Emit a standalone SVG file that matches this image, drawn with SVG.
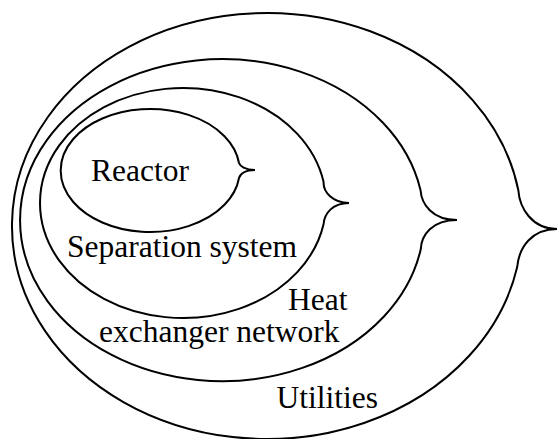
<svg xmlns="http://www.w3.org/2000/svg" width="558" height="439" viewBox="0 0 558 439">
  <style>
    .ring { fill: none; stroke: #000; stroke-width: 2; stroke-linejoin: miter; }
    .lbl { font-family: "Liberation Serif", "Times New Roman", serif; font-size: 31.5px; fill: #000; }
  </style>
  <rect x="0" y="0" width="558" height="439" fill="#fff"/>
  <g id="utilities">
    <path class="ring" d="M 518.3 190 A 255 213 0 1 0 517.2 267 C 519 247 532 229 557 229 C 532 229 519.5 208 518.3 190 Z"/>
    <text class="lbl" x="276.5" y="408">Utilities</text>
  </g>
  <g id="heat-exchanger-network">
    <path class="ring" d="M 420.5 190 A 202 161 0 1 0 420.8 249 C 421.5 235 432 220 457 220 C 432 220 421.5 204 420.5 190 Z"/>
    <text class="lbl" x="288" y="310">Heat</text>
    <text class="lbl" x="99" y="342">exchanger network</text>
  </g>
  <g id="separation-system">
    <path class="ring" d="M 323.6 182 A 143 115 0 1 0 323.6 224 C 324.5 213 333 203 349 203 C 333 203 323 192 323.6 182 Z"/>
    <text class="lbl" x="67" y="257">Separation system</text>
  </g>
  <g id="reactor">
    <path class="ring" d="M 239 163 A 89.5 61.5 0 1 0 239 178 C 240 174 245 170 255 170 C 245 170 240 166 239 163 Z"/>
    <text class="lbl" x="91" y="181">Reactor</text>
  </g>
  <g id="connectors"/>
</svg>
